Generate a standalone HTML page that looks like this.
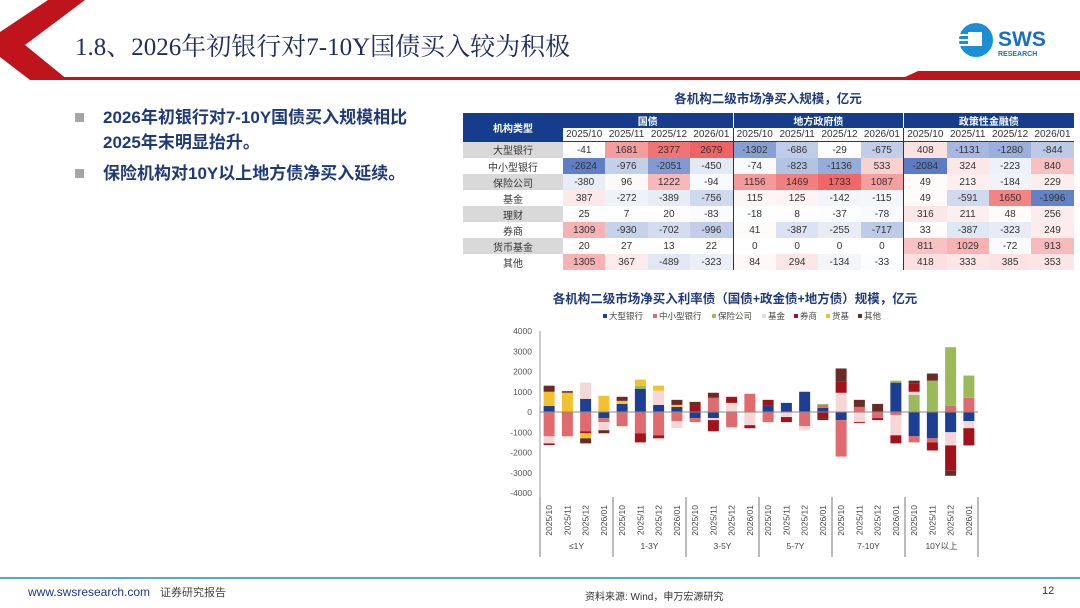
<!DOCTYPE html>
<html><head><meta charset="utf-8">
<style>
body{margin:0;width:1080px;height:608px;background:#fff;position:relative;overflow:hidden;font-family:"Liberation Sans","Noto Sans CJK SC",sans-serif;}
.abs{position:absolute;}
#title{left:75px;top:27px;font-family:"Liberation Serif","Noto Serif CJK SC",serif;font-size:25px;color:#1f2d5c;white-space:nowrap;}
.bul{left:75px;font-weight:bold;font-size:17px;color:#1f3a78;line-height:25px;}
.bul .sq{position:absolute;left:0;top:8px;width:9px;height:9px;background:#a6a6a6;}
.bul .t{margin-left:28px;width:330px;}
table{border-collapse:collapse;font-size:10px;color:#333;}
td{text-align:center;padding:0;height:16px;}
</style></head><body>
<svg class="abs" style="left:0;top:0" width="1080" height="90">
<polygon points="48,0 85,0 25,45 68,80 30,80 0,57 0,32" fill="#c0141c"/>
<polygon points="60,77 905,77 918,71 1080,71 1080,80 60,80" fill="#c0141c"/>
</svg>
<div id="title" class="abs">1.8、2026年初银行对7-10Y国债买入较为积极</div>
<div class="abs" style="left:958px;top:22px;">
<svg width="110" height="40"><circle cx="18" cy="18" r="17" fill="#1a8fd6"/><rect x="10" y="10" width="14" height="14" fill="#fff"/><rect x="0" y="12" width="10" height="2" fill="#fff"/><rect x="0" y="17" width="10" height="2" fill="#fff"/><rect x="0" y="22" width="10" height="2" fill="#fff"/>
<text x="40" y="24" font-size="21" font-weight="bold" fill="#1a6fc0" font-family="Liberation Sans">SWS</text><text x="40" y="34" font-size="7" font-weight="bold" fill="#1a6fc0">RESEARCH</text></svg></div>

<div class="abs bul" style="top:105px"><div class="sq"></div><div class="t">2026年初银行对7-10Y国债买入规模相比2025年末明显抬升。</div></div>
<div class="abs bul" style="top:161px"><div class="sq"></div><div class="t" style="width:360px">保险机构对10Y以上地方债净买入延续。</div></div>

<div class="abs" style="left:463px;top:88px;width:610px;text-align:center;font-weight:bold;font-size:12.5px;color:#1f3a78">各机构二级市场净买入规模，亿元</div>
<div class="abs" style="left:463px;top:113px" id="tblwrap"></div>

<svg class="abs" id="chart" style="left:500px;top:285px" width="500" height="275"></svg>

<div class="abs" style="left:0;top:577px;width:1080px;height:2px;background:#5aaad0"></div>
<div class="abs" style="left:28px;top:584px;font-size:12px;color:#1f3a78">www.swsresearch.com&nbsp;&nbsp;&nbsp;<span style="color:#444;font-size:11px">证券研究报告</span></div>
<div class="abs" style="left:585px;top:588px;font-size:10px;color:#333">资料来源: Wind，申万宏源研究</div>
<div class="abs" style="left:1042px;top:585px;font-size:11px;color:#333">12</div>

<script>
// ---- table data ----
const tblInst = ["大型银行","中小型银行","保险公司","基金","理财","券商","货币基金","其他"];
const tblGroups = ["国债","地方政府债","政策性金融债"];
const tblMonths = ["2025/10","2025/11","2025/12","2026/01"];
const tblVals = [
[-41,1681,2377,2679,-1302,-686,-29,-675,408,-1131,-1280,-844],
[-2624,-976,-2051,-450,-74,-823,-1136,533,-2084,324,-223,840],
[-380,96,1222,-94,1156,1469,1733,1087,49,213,-184,229],
[387,-272,-389,-756,115,125,-142,-115,49,-591,1650,-1996],
[25,7,20,-83,-18,8,-37,-78,316,211,48,256],
[1309,-930,-702,-996,41,-387,-255,-717,33,-387,-323,249],
[20,27,13,22,0,0,0,0,811,1029,-72,913],
[1305,367,-489,-323,84,294,-134,-33,418,333,385,353]];
function cellColor(v,max){const a=Math.min(Math.abs(v)/max,1)*0.85;return v>=0?`rgba(235,70,70,${a})`:`rgba(60,100,185,${a})`;}
(function(){
 const maxG=[2700,1800,2100];
 let h='<table>';
 h+='<tr style="background:#163d8c;color:#fff;font-weight:bold"><td rowspan="2" style="width:100px;height:28px">机构类型</td>';
 tblGroups.forEach((g,i)=>{h+=`<td colspan="4" style="height:15px;${i?'border-left:1px solid #fff':''}">${g}</td>`;});
 h+='</tr><tr style="background:#fff;color:#333">';
 for(let g=0;g<3;g++)tblMonths.forEach((m,j)=>{h+=`<td style="width:42.4px;height:13px;border-bottom:1px solid #1f3a78;${j==0&&g?'border-left:1px solid #333':''}">${m}</td>`;});
 h+='</tr>';
 tblVals.forEach((row,r)=>{
  h+=`<tr><td style="background:${r%2?'#fff':'#d9d9d9'}">${tblInst[r]}</td>`;
  row.forEach((v,c)=>{const g=Math.floor(c/4);h+=`<td style="background:${cellColor(v,maxG[g])};${c%4==0&&c?'border-left:1px solid #333':''}">${v}</td>`;});
  h+='</tr>';
 });
 h+='</table>';
 document.getElementById('tblwrap').innerHTML=h;
})();

// ---- chart data ----
const seriesNames = ["大型银行","中小型银行","保险公司","基金","券商","货基","其他"];
const seriesColors = ["#1c3f94","#e06b6e","#9bbb59","#f6d6d6","#a3111a","#f2c12e","#6b2b25"];
const months = ["2025/10","2025/11","2025/12","2026/01"];
const tenors = ["≤1Y","1-3Y","3-5Y","5-7Y","7-10Y","10Y以上"];
const yTicks = [4000,3000,2000,1000,0,-1000,-2000,-3000,-4000];
const bigBank   = [300,0,650,-300, 400,1150,350,250, -300,-300,0,0, 300,450,1000,200, -400,0,0,1450, -1200,-1300,-1000,-450];
const smallBank = [-1200,-1200,-950,-200, -700,-1050,-1150,-450, -200,700,-750,900, -500,0,-700,150, -1800,250,-300,-150, -300,-200,300,700];
const insurance = [0,0,0,0, 0,150,0,0, 0,0,0,0, 0,0,0,50, 0,0,0,100, 850,1550,2900,1100];
const fundVals  = [-350,0,800,-400, 0,0,700,-350, 0,-100,450,-650, 0,-250,-200,0, 950,-500,0,-1000, 150,0,-650,-350];
const broker    = [-80,0,-100,0, 0,-450,-150,0, 300,-550,300,-150, 300,-250,0,-300, 550,-50,-100,-400, 400,-400,-1250,-850];
const moneyFund = [700,950,-250,800, 150,300,250,100, 0,0,0,0, 0,0,0,0, 0,0,0,0, 0,0,0,0];
const others    = [300,80,-250,-150, 200,0,0,250, 200,250,0,0, 0,0,0,-100, 650,350,400,0, 150,350,-250,0];
const seriesData = [bigBank,smallBank,insurance,fundVals,broker,moneyFund,others];

(function(){
 const svg=document.getElementById('chart');const NS='http://www.w3.org/2000/svg';
 const ox=500,oy=285;
 const X0=540-ox,X1=978-ox;const nb=24;const step=(X1-X0)/nb;
 const y=v=>412-oy-v*20.25/1000;
 const xc=i=>X0+step*(i+0.5);
 function el(t,a,txt){const e=document.createElementNS(NS,t);for(const k in a)e.setAttribute(k,a[k]);if(txt!=null)e.textContent=txt;svg.appendChild(e);return e;}
 let e=el('text',{x:235,y:18,'text-anchor':'middle','font-size':12.5,'font-weight':'bold',fill:'#1f3a78'},'各机构二级市场净买入利率债（国债+政金债+地方债）规模，亿元');
 
 
 let lx=103;
 seriesNames.forEach((n,i)=>{
  const r=el('rect',{x:lx,y:29,width:4,height:4,fill:seriesColors[i]});
  
  
  const t=el('text',{x:lx+6,y:34,'font-size':8.5,fill:'#444'},n);
  
  
  lx+=n.length*9+14;
 });
 yTicks.forEach(v=>{
  const t=el('text',{x:32,y:y(v)+3,'text-anchor':'end','font-size':8.5,fill:'#555'},v);
  
  
 });
 const ax=el('line',{x1:X0,x2:X0,y1:y(4000),y2:y(-4000)+4,stroke:'#999','stroke-width':1});
 
 
 for(let b=0;b<nb;b++){
  let pos=0,neg=0;
  seriesData.forEach((s,k)=>{
   const v=s[b];if(!v)return;
   let y0,y1;
   if(v>0){y0=y(pos+v);y1=y(pos);pos+=v;}else{y0=y(neg);y1=y(neg+v);neg+=v;}
   const r=el('rect',{x:xc(b)-5.5,y:y0,width:11,height:y1-y0,fill:seriesColors[k]});
   
   
  });
 }
 const zl=el('line',{x1:X0,x2:X1,y1:y(0),y2:y(0),stroke:'#888','stroke-width':1});
 
 
 for(let b=0;b<nb;b++){
  const t=el('text',{x:0,y:0,'font-size':8.5,fill:'#444','text-anchor':'end',transform:`translate(${xc(b)+3},${y(-4000)+12}) rotate(-90)`},months[b%4]);
  
  
 }
 for(let g=0;g<=6;g++){
  const xx=X0+step*4*g;
  const l=el('line',{x1:xx,x2:xx,y1:y(-4000)+4,y2:272,stroke:'#777','stroke-width':1});
  
  
  if(g<6){
   const t=el('text',{x:xx+step*2,y:264,'text-anchor':'middle','font-size':8.5,fill:'#444'},tenors[g]);
   
   
  }
 }
})();
</script>
</body></html>
